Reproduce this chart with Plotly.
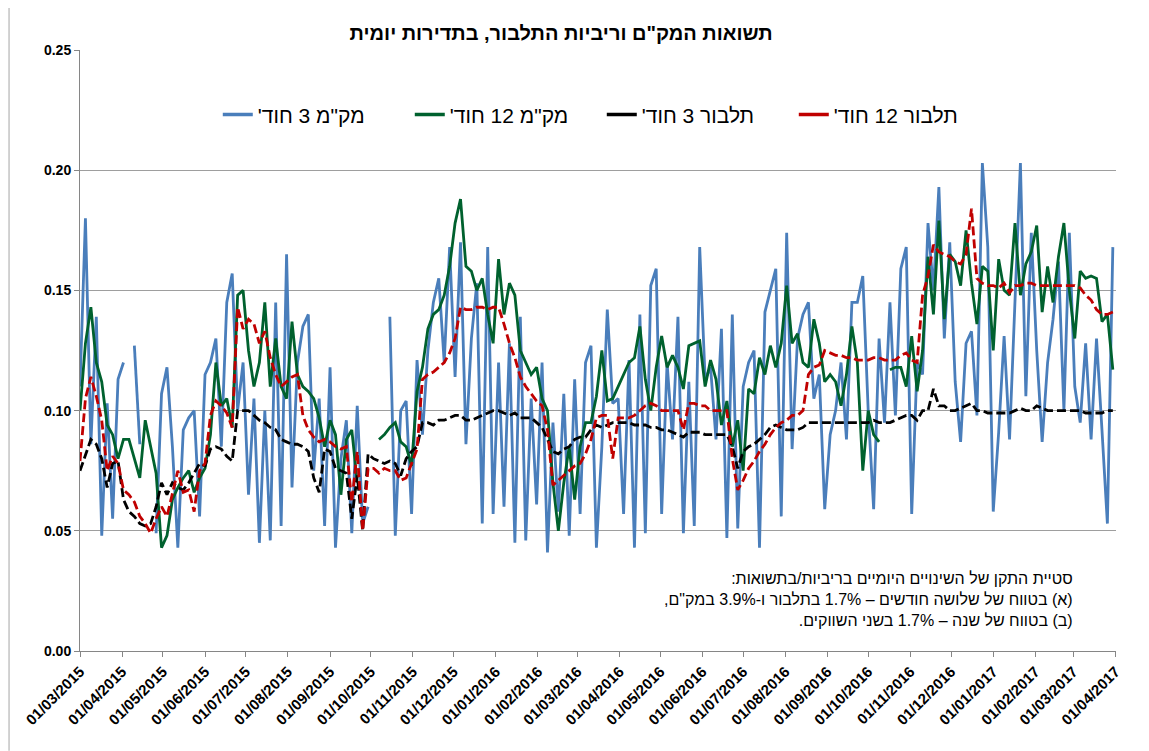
import pandas as pd
import plotly.graph_objects as go

# Samples every 4 days from 01/03/2015
mkm3 = [
    0.110, 0.180, 0.086, 0.139, 0.048, 0.103, 0.055, 0.113, 0.120, None,
    0.127, 0.086, None, None, 0.049, 0.107, 0.118, 0.085, 0.043, 0.092,
    0.097, 0.100, 0.056, 0.115, 0.120, 0.130, 0.085, 0.145, 0.157, 0.100,
    0.120, 0.065, 0.105, 0.045, 0.100, 0.046, 0.145, 0.052, 0.165, 0.068,
    0.120, 0.135, 0.140, 0.075, 0.105, 0.052, 0.118, 0.043, 0.080, 0.096,
    0.049, 0.102, 0.053, 0.060, None, None, None, 0.139, 0.048, 0.100,
    0.104, 0.057, 0.121, 0.090, 0.125, 0.145, 0.155, 0.120, 0.168, 0.114,
    0.170, 0.086, 0.130, 0.153, 0.053, 0.168, 0.057, 0.120, 0.060, 0.128,
    0.045, 0.139, 0.046, 0.105, 0.061, 0.120, 0.041, 0.095, 0.058, 0.107,
    0.048, 0.113, 0.057, 0.120, 0.127, 0.043, 0.085, 0.142, 0.103, 0.105,
    0.057, 0.121, 0.043, 0.140, 0.049, 0.152, 0.159, 0.057, 0.120, 0.088,
    0.139, 0.049, 0.112, 0.052, 0.168, 0.113, 0.118, 0.088, 0.134, 0.047,
    0.140, 0.051, 0.110, 0.120, 0.125, 0.043, 0.141, 0.150, 0.159, 0.056,
    0.174, 0.084, 0.130, 0.140, 0.145, 0.105, 0.115, 0.059, 0.090, 0.100,
    0.120, 0.088, 0.145, 0.145, 0.156, 0.100, 0.059, 0.130, 0.095, 0.145,
    0.098, 0.159, 0.168, 0.057, 0.120, 0.115, 0.178, 0.150, 0.193, 0.130,
    0.170, 0.112, 0.087, 0.128, 0.133, 0.098, 0.203, 0.168, 0.058, 0.091,
    0.131, 0.088, 0.142, 0.203, 0.106, 0.174, 0.125, 0.087, 0.120, 0.138,
    0.162, 0.100, 0.174, 0.110, 0.095, 0.128, 0.088, 0.130, 0.092, 0.053,
    0.168,
]

mkm12 = [
    0.100, 0.128, 0.143, 0.120, 0.112, 0.094, 0.090, 0.080, 0.088, 0.088,
    0.080, 0.072, 0.096, 0.085, 0.074, 0.043, 0.048, 0.063, 0.068, 0.072,
    0.075, 0.066, 0.072, 0.076, 0.090, 0.120, 0.102, 0.105, 0.093, 0.148,
    0.150, 0.125, 0.110, 0.120, 0.145, 0.110, 0.130, 0.110, 0.105, 0.137,
    0.115, 0.110, 0.108, 0.105, 0.097, 0.085, 0.096, 0.090, 0.065, 0.088,
    0.092, 0.070, None, 0.064, None, 0.088, 0.090, 0.093, 0.095, 0.087,
    0.085, 0.077, 0.108, 0.118, 0.134, 0.140, 0.142, 0.148, 0.160, 0.178,
    0.188, 0.160, 0.158, 0.150, 0.155, 0.140, 0.128, 0.163, 0.140, 0.153,
    0.148, 0.125, 0.120, 0.115, 0.118, 0.105, 0.100, 0.070, 0.050, 0.070,
    0.085, 0.063, 0.085, 0.095, 0.095, 0.106, 0.125, 0.104, 0.105, 0.110,
    0.115, 0.120, 0.122, 0.135, 0.113, 0.100, 0.118, 0.131, 0.118, 0.123,
    0.118, 0.109, 0.127, 0.128, 0.129, 0.110, 0.121, 0.113, 0.094, 0.104,
    0.085, 0.096, 0.075, 0.109, 0.107, 0.122, 0.115, 0.127, 0.118, 0.128,
    0.152, 0.128, 0.132, 0.120, 0.118, 0.138, 0.128, 0.112, 0.115, 0.112,
    0.102, 0.115, 0.135, 0.120, 0.075, 0.100, 0.090, 0.087, None, 0.117,
    0.118, 0.118, 0.110, 0.131, 0.108, 0.125, 0.164, 0.140, 0.179, 0.138,
    0.165, 0.162, 0.152, 0.175, 0.153, 0.136, 0.160, 0.158, 0.125, 0.163,
    0.150, 0.148, 0.178, 0.148, 0.161, 0.166, 0.177, 0.141, 0.160, 0.145,
    0.164, 0.178, 0.150, 0.130, 0.158, 0.155, 0.156, 0.155, 0.137, 0.140,
    0.117,
]

telbor3 = [
    0.075, 0.082, 0.088, 0.086, 0.080, 0.068, 0.078, 0.079, 0.063, 0.058,
    0.056, 0.053, 0.052, 0.053, 0.060, 0.070, 0.065, 0.070, 0.068, 0.067,
    0.070, 0.074, 0.078, 0.077, 0.084, 0.085, 0.084, 0.081, 0.079, 0.100,
    0.100, 0.100, 0.098, 0.096, 0.095, 0.093, 0.092, 0.088, 0.087, 0.086,
    0.086, 0.085, 0.083, 0.072, 0.066, 0.084, 0.083, 0.076, 0.075, 0.074,
    0.055, 0.073, 0.050, 0.082, 0.080, 0.079, 0.078, 0.079, 0.078, 0.073,
    0.080, 0.083, 0.085, 0.095, 0.095, 0.094, 0.096, 0.096, 0.097, 0.098,
    0.098, 0.096, 0.096, 0.097, 0.098, 0.099, 0.100, 0.100, 0.099, 0.098,
    0.099, 0.097, 0.097, 0.097, 0.095, 0.093, 0.088, 0.083, 0.082, 0.084,
    0.085, 0.088, 0.089, 0.089, 0.092, 0.094, 0.093, 0.094, 0.095, 0.095,
    0.095, 0.095, 0.094, 0.094, 0.094, 0.093, 0.093, 0.092, 0.092, 0.091,
    0.090, 0.089, 0.091, 0.091, 0.091, 0.090, 0.090, 0.090, 0.090, 0.090,
    0.085, 0.076, 0.083, 0.085, 0.086, 0.088, 0.090, 0.093, 0.094, 0.093,
    0.092, 0.092, 0.092, 0.093, 0.095, 0.095, 0.095, 0.095, 0.095, 0.095,
    0.095, 0.095, 0.095, 0.095, 0.095, 0.095, 0.096, 0.095, 0.095, 0.095,
    0.096, 0.097, 0.098, 0.098, 0.096, 0.100, 0.100, 0.109, 0.102, 0.102,
    0.100, 0.100, 0.101, 0.102, 0.103, 0.100, 0.100, 0.099, 0.099, 0.099,
    0.099, 0.099, 0.100, 0.101, 0.100, 0.100, 0.102, 0.101, 0.100, 0.100,
    0.100, 0.100, 0.100, 0.100, 0.100, 0.099, 0.099, 0.099, 0.099, 0.100,
    0.100,
]

telbor12 = [
    0.079, 0.105, 0.114, 0.106, 0.096, 0.075, 0.081, 0.078, 0.067, 0.065,
    0.062, 0.056, 0.053, 0.049, 0.055, 0.060, 0.056, 0.066, 0.075, 0.066,
    0.067, 0.058, 0.075, 0.078, 0.098, 0.104, 0.102, 0.099, 0.093, 0.143,
    0.134, 0.138, 0.136, 0.128, 0.133, 0.122, 0.115, 0.110, 0.112, 0.114,
    0.115, 0.098, 0.092, 0.089, 0.087, 0.088, 0.087, 0.085, 0.084, 0.085,
    0.062, 0.083, 0.050, 0.076, 0.076, 0.074, 0.076, 0.075, 0.075, 0.071,
    0.072, 0.078, 0.084, 0.113, 0.115, 0.116, 0.118, 0.120, 0.124, 0.130,
    0.143, 0.142, 0.142, 0.143, 0.143, 0.142, 0.143, 0.143, 0.136, 0.128,
    0.122, 0.114, 0.110, 0.107, 0.104, 0.102, 0.092, 0.069, 0.071, 0.073,
    0.075, 0.077, 0.078, 0.082, 0.088, 0.097, 0.098, 0.098, 0.080, 0.097,
    0.097, 0.097, 0.098, 0.100, 0.102, 0.103, 0.102, 0.100, 0.100, 0.100,
    0.100, 0.092, 0.103, 0.103, 0.102, 0.102, 0.100, 0.100, 0.100, 0.100,
    0.080, 0.067, 0.071, 0.076, 0.079, 0.083, 0.086, 0.090, 0.093, 0.095,
    0.096, 0.098, 0.098, 0.100, 0.115, 0.118, 0.119, 0.125, 0.124, 0.123,
    0.123, 0.122, 0.122, 0.121, 0.121, 0.121, 0.122, 0.122, 0.121, 0.121,
    0.121, 0.123, 0.124, 0.121, 0.120, 0.148, 0.156, 0.169, 0.166, 0.165,
    0.164, 0.162, 0.161, 0.165, 0.184, 0.155, 0.153, 0.152, 0.152, 0.151,
    0.153, 0.149, 0.152, 0.152, 0.153, 0.153, 0.152, 0.152, 0.152, 0.152,
    0.152, 0.152, 0.152, 0.152, 0.151, 0.148, 0.146, 0.142, 0.140, 0.140,
    0.141,
]

dates = pd.date_range("2015-03-01", periods=max(len(mkm3), len(mkm12), len(telbor3), len(telbor12)), freq="4D")

name_mkm3 = 'מק"מ 3 חוד\''
name_mkm12 = 'מק"מ 12 חוד\''
name_tel3 = 'תלבור 3 חוד\''
name_tel12 = 'תלבור 12 חוד\''

title_text = 'תשואות המק"ם וריביות התלבור, בתדירות יומית'
note_lines = [
    'סטיית התקן של השינויים היומיים בריביות/בתשואות:',
    '(א) בטווח של שלושה חודשים – 1.7% בתלבור ו-3.9% במק"ם,',
    '(ב) בטווח של שנה – 1.7% בשני השווקים.',
]

RLM = "\u200f"


def rtl(s):
    return RLM + s + RLM


FONT = "Arial, Liberation Sans, sans-serif"
series = [
    (mkm3, name_mkm3, "#4A7EBB", "solid"),
    (mkm12, name_mkm12, "#00612E", "solid"),
    (telbor3, name_tel3, "#000000", "9px,4px"),
    (telbor12, name_tel12, "#C00000", "9px,4px"),
]

fig = go.Figure()
for vals, name, color, dash in series:
    fig.add_trace(go.Scatter(
        x=dates[:len(vals)], y=vals, mode="lines", connectgaps=False,
        line=dict(color=color, width=2.8, dash=dash), showlegend=False,
        hoverinfo="skip",
    ))
for vals, name, color, dash in series:
    fig.add_trace(go.Scatter(
        x=[None], y=[None], mode="lines", name=rtl(name),
        line=dict(color=color, width=3.5),
    ))

fig.add_annotation(
    text="<br>".join(rtl(l) for l in note_lines),
    xref="paper", yref="paper", x=0.9604, y=0.0865, xanchor="right", yanchor="middle",
    align="right", showarrow=False, font=dict(family=FONT, size=16, color="#000000"),
)

# page body has an 8px margin: figure is shrunk/shifted so the plot area lands at x 80-1116, y 50-651
fig.update_layout(
    width=1141, height=743,
    margin=dict(l=72, r=33, t=42, b=100),
    paper_bgcolor="white", plot_bgcolor="white",
    font=dict(family=FONT, color="#000000"),
    title=dict(text=rtl(title_text), x=0.4847, xanchor="center", y=0.9664, yanchor="middle",
               font=dict(family=FONT, size=20, weight="bold", color="#000000")),
    legend=dict(orientation="h", x=0.133, xanchor="left", y=0.892, yanchor="middle",
                font=dict(family=FONT, size=21, color="#000000"), bgcolor="rgba(0,0,0,0)",
                traceorder="normal", entrywidth=147, entrywidthmode="pixels"),
    xaxis=dict(
        type="date", range=["2015-03-01", "2017-04-01 08:00"],
        tick0="2015-03-01", dtick="M1", tickformat="%d/%m/%Y", tickangle=-45,
        tickfont=dict(family=FONT, size=15, weight="bold", color="#000000"),
        showgrid=False, showline=True, linecolor="#868686", linewidth=1,
        ticks="outside", ticklen=5, tickcolor="#868686", zeroline=False,
    ),
    yaxis=dict(
        range=[0, 0.25], dtick=0.05, tick0=0, tickformat=".2f",
        tickfont=dict(family=FONT, size=14, weight="bold", color="#000000"),
        showgrid=True, gridcolor="#9E9E9E", gridwidth=1,
        showline=True, linecolor="#868686", linewidth=1,
        ticks="outside", ticklen=5, tickcolor="#868686", zeroline=False,
    ),
)

fig.add_shape(type="line", xref="paper", yref="paper",
              x0=-0.0685, x1=-0.0685, y0=-0.166, y1=1.07,
              line=dict(color="#A6A6A6", width=1))

fig.write_html("out.html")
